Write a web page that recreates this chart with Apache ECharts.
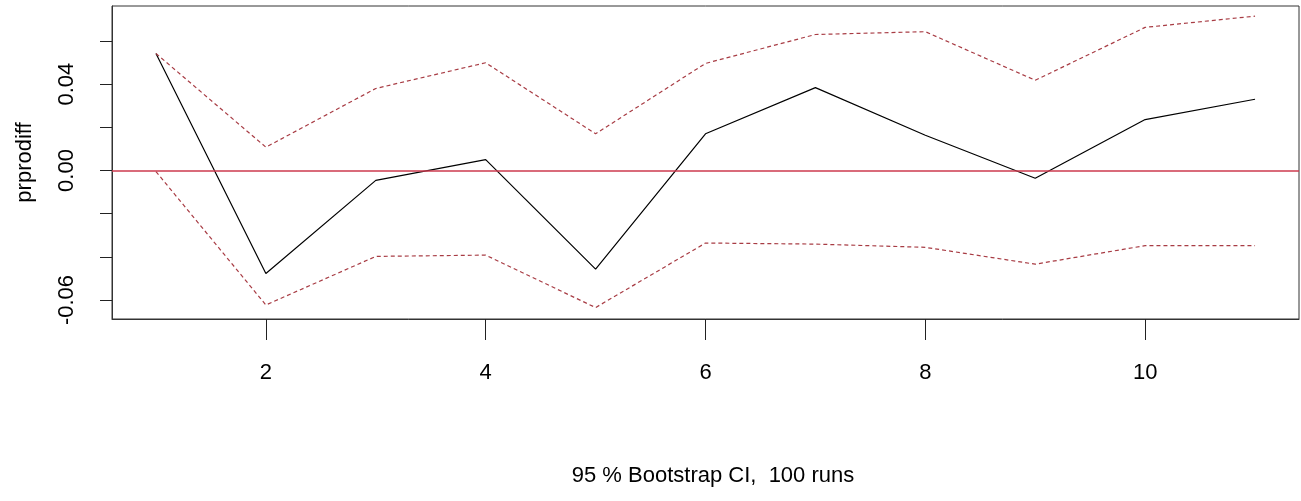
<!DOCTYPE html>
<html>
<head>
<meta charset="utf-8">
<script src="https://cdn.jsdelivr.net/npm/echarts@6/dist/echarts.min.js"></script>
<style>
    html, body { margin: 0; padding: 0; background: #fff; }
    #main { width: 1301px; height: 501px; }
</style>
</head>
<body>
<div id="main"></div>
<script>
// impulse response with bootstrap band
var periods = [1, 2, 3, 4, 5, 6, 7, 8, 9, 10, 11];
var response = [0.0542, -0.0477, -0.0046, 0.0050, -0.0457, 0.0170, 0.0384, 0.0163, -0.0036, 0.0236, 0.0330];
var upper = [0.0542, 0.0108, 0.0380, 0.0499, 0.0170, 0.0496, 0.0630, 0.0643, 0.0418, 0.0663, 0.0715];
var lower = [-0.0005, -0.0623, -0.0398, -0.0392, -0.0635, -0.0336, -0.0341, -0.0356, -0.0434, -0.0348, -0.0348];
var xTicks = [2, 4, 6, 8, 10];
var yTicks = [-0.06, -0.04, -0.02, 0, 0.02, 0.04, 0.06];
var yLabels = [-0.06, 0, 0.04];

function pairs(ys) {
    var out = [];
    for (var i = 0; i < periods.length; i++) {
        out.push([periods[i], ys[i]]);
    }
    return out;
}

var font = '"Liberation Sans", Arial, sans-serif';
var chart = echarts.init(document.getElementById('main'));
var option = {
    animation: false,
    backgroundColor: '#fff',
    title: {
        text: '95 % Bootstrap CI,  100 runs',
        left: 708,
        top: 460,
        textAlign: 'center',
        textStyle: { fontFamily: font, fontSize: 22, fontWeight: 'normal', color: '#000' }
    },
    grid: {
        left: 112, right: 2, top: 6, bottom: 182,
        show: true, borderColor: '#333', borderWidth: 1
    },
    xAxis: {
        type: 'value',
        min: 0.6, max: 11.4,
        splitLine: { show: false },
        axisLine: { show: true, onZero: false, lineStyle: { color: '#333' } },
        axisTick: { show: true, length: 21, customValues: xTicks, lineStyle: { color: '#222' } },
        axisLabel: {
            customValues: xTicks, margin: 43,
            fontFamily: font, fontSize: 22, color: '#000'
        }
    },
    yAxis: {
        type: 'value',
        min: -0.0688, max: 0.0762,
        name: 'prprodiff',
        nameLocation: 'middle',
        nameGap: 76,
        nameRotate: 90,
        nameTextStyle: { fontFamily: font, fontSize: 22, color: '#000' },
        splitLine: { show: false },
        axisLine: { show: true, onZero: false, lineStyle: { color: '#333' } },
        axisTick: { show: true, length: 12, customValues: yTicks, lineStyle: { color: '#222' } },
        axisLabel: {
            customValues: yLabels, rotate: 90, margin: 34,
            fontFamily: font, fontSize: 22, color: '#000',
            formatter: function (v) { return v.toFixed(2); }
        }
    },
    series: [
        {
            name: 'response',
            type: 'line',
            data: pairs(response),
            symbol: 'none',
            lineStyle: { color: '#000', width: 1.2 },
            markLine: {
                silent: true,
                symbol: 'none',
                label: { show: false },
                lineStyle: { color: '#cc3a4e', width: 1.6, type: 'solid' },
                data: [{ yAxis: 0 }]
            }
        },
        {
            name: 'upper',
            type: 'line',
            data: pairs(upper),
            symbol: 'none',
            lineStyle: { color: '#a83c44', width: 1.2, type: [4, 3] }
        },
        {
            name: 'lower',
            type: 'line',
            data: pairs(lower),
            symbol: 'none',
            lineStyle: { color: '#a83c44', width: 1.2, type: [4, 3] }
        }
    ]
};
chart.setOption(option);
</script>
</body>
</html>
